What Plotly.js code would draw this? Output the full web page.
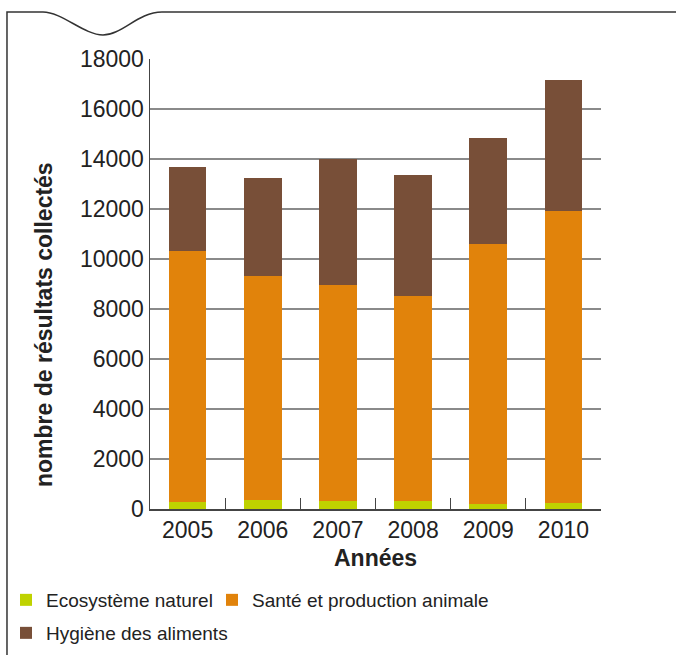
<!DOCTYPE html>
<html>
<head>
<meta charset="utf-8">
<script src="https://cdn.plot.ly/plotly-3.0.1.min.js"></script>
<style>
  html, body { margin: 0; padding: 0; background: #fff; }
  #chart { width: 676px; height: 655px; }
</style>
</head>
<body>
<div id="chart"></div>
<script>
const years = ['2005', '2006', '2007', '2008', '2009', '2010'];
const ecosysteme = [280, 360, 320, 320, 200, 240];
const sante = [10050, 8960, 8640, 8210, 10400, 11680];
const hygiene = [3350, 3920, 5040, 4830, 4240, 5240];
const seriesNames = ['Ecosystème naturel', 'Santé et production animale', 'Hygiène des aliments'];
const yTicks = [0, 2000, 4000, 6000, 8000, 10000, 12000, 14000, 16000, 18000];
const yTitle = 'nombre de résultats collectés';
const xTitle = 'Années';

const FONT = 'Liberation Sans, Arial, Helvetica, sans-serif';
const W = 676, H = 655;
const M = {l: 150, r: 75, t: 59, b: 146};
const PW = W - M.l - M.r, PH = H - M.t - M.b;
const px = x => ((x - M.l) / PW).toFixed(4);
const py = y => ((H - M.b - y) / PH).toFixed(4);

const framePath =
  'M' + px(7) + ',' + py(655) +
  ' L' + px(7) + ',' + py(12) +
  ' L' + px(43) + ',' + py(12) +
  ' C' + px(62) + ',' + py(12) + ' ' + px(84) + ',' + py(35) + ' ' + px(103) + ',' + py(35) +
  ' C' + px(122) + ',' + py(35) + ' ' + px(138) + ',' + py(12) + ' ' + px(162) + ',' + py(12) +
  ' L' + px(676) + ',' + py(12);

const traces = [
  {type: 'bar', x: years, y: ecosysteme, name: seriesNames[0], marker: {color: '#bfd200'}, legend: 'legend'},
  {type: 'bar', x: years, y: sante, name: seriesNames[1], marker: {color: '#e1830b'}, legend: 'legend2'},
  {type: 'bar', x: years, y: hygiene, name: seriesNames[2], marker: {color: '#784f38'}, legend: 'legend3'}
];

function legendAt(left, top) {
  return {
    orientation: 'h',
    xref: 'container', yref: 'container',
    x: left / W, xanchor: 'left',
    y: 1 - top / H, yanchor: 'top',
    font: {family: FONT, size: 19, color: '#222'},
    itemclick: false, itemdoubleclick: false,
    bgcolor: 'rgba(0,0,0,0)'
  };
}

const layout = {
  width: W, height: H,
  margin: M,
  barmode: 'stack',
  bargap: 0.5,
  paper_bgcolor: '#ffffff',
  plot_bgcolor: '#ffffff',
  font: {family: FONT, color: '#222', size: 23},
  showlegend: true,
  legend: legendAt(6, 581),
  legend2: legendAt(212, 581),
  legend3: legendAt(6, 614),
  xaxis: {
    type: 'category',
    range: [-0.5, 5.5],
    showline: true, linecolor: '#444', linewidth: 1.5,
    ticks: 'inside', tickson: 'boundaries', ticklen: 11, tickcolor: '#444', tickwidth: 1.2,
    showgrid: false,
    tickfont: {family: FONT, size: 23, color: '#222'},
    fixedrange: true
  },
  yaxis: {
    range: [0, 18000],
    tickvals: yTicks,
    ticktext: yTicks.map(String),
    showline: true, linecolor: '#444', linewidth: 1.5,
    showgrid: true, gridcolor: '#8a8a8a', gridwidth: 1.5,
    zeroline: false,
    ticks: '',
    tickfont: {family: FONT, size: 23, color: '#222'},
    fixedrange: true
  },
  annotations: [{
    text: '<b>' + yTitle + '</b>',
    xref: 'paper', yref: 'paper',
    x: px(44), y: py(325),
    xanchor: 'center', yanchor: 'middle',
    textangle: -90,
    showarrow: false,
    font: {family: FONT, size: 23, color: '#222'}
  }, {
    text: '<b>' + xTitle + '</b>',
    xref: 'paper', yref: 'paper',
    x: px(376), y: py(543),
    xanchor: 'center', yanchor: 'top',
    showarrow: false,
    font: {family: FONT, size: 23, color: '#222'}
  }],
  shapes: [{
    type: 'path', xref: 'paper', yref: 'paper',
    path: framePath,
    line: {color: '#333', width: 1.5}
  }]
};

Plotly.newPlot('chart', traces, layout, {displayModeBar: false, staticPlot: true});
</script>
</body>
</html>
